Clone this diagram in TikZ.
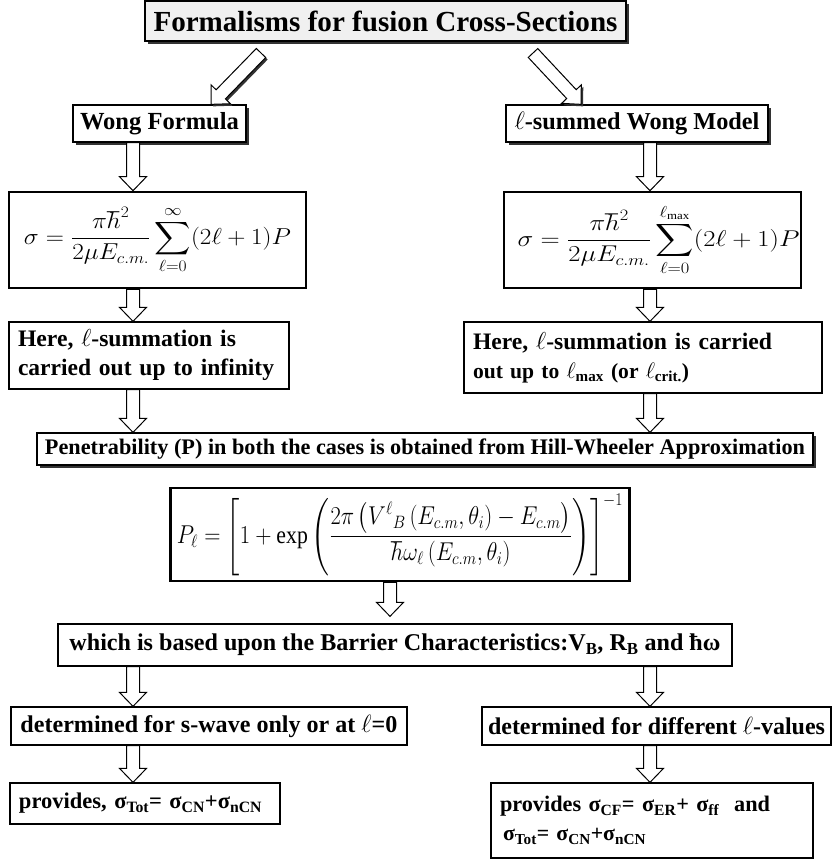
\documentclass[tikz,border=0pt]{standalone}
\usepackage{amsmath}
\usepackage{fontspec}
\setmainfont{Liberation Serif}
\usepackage{graphicx}
\usetikzlibrary{calc,shadows}

\newcommand{\fw}[2]{\resizebox{#1pt}{!}{#2}}
\newcommand{\fwh}[3]{\resizebox*{#1pt}{#2pt}{#3}}
\newcommand{\sig}[1]{σ\textsubscript{#1}}
% block arrow from #2 to #3
\newcommand{\barr}[3][]{%
  \path (#2) coordinate (bs) (#3) coordinate (be) ($(be)!14pt!(bs)$) coordinate (bh);
  \draw[barrow,#1] ($(bs)!6.5pt!90:(be)$) -- ($(bh)!6.5pt!90:(be)$) -- ($(bh)!13.5pt!90:(be)$) -- (be)
    -- ($(bh)!13.5pt!-90:(be)$) -- ($(bh)!6.5pt!-90:(be)$) -- ($(bs)!6.5pt!-90:(be)$) -- cycle;}

\tikzset{
  box/.style={draw=black, line width=1.3pt, fill=white, inner sep=0pt,
    font=\bfseries\fontsize{24}{29}\selectfont},
  lbox/.style={box, align=left, inner xsep=9pt},
  shbox/.style={box, drop shadow={shadow xshift=2.5pt, shadow yshift=-2.5pt, fill=black!80, opacity=1}},
  fbox/.style={box, line width=2.6pt},
  barrow/.style={draw=black, line width=1pt, fill=white, line join=miter},
  sharrow/.style={drop shadow={shadow xshift=2pt, shadow yshift=-2pt, fill=black!80, opacity=1}},
}

\begin{document}
\begin{tikzpicture}[x=1pt,y=-1pt]
\useasboundingbox (0,0) rectangle (832,862);

% boxes
\node[shbox, fill=gray!12, minimum width=481, minimum height=40] (title) at (385.5,21)
  {\fw{464}{Formalisms for fusion Cross-Sections}};
\node[shbox, minimum width=173, minimum height=37] (wong) at (159.5,123.5)
  {\fw{159}{Wong Formula}};
\node[shbox, minimum width=262, minimum height=37] (lsum) at (637,123.5)
  {\fw{245}{$\ell$-summed Wong Model}};

\node[fbox, minimum width=297, minimum height=96] (fL) at (157.5,240)
  {\fwh{267}{68}{$\displaystyle \sigma = \frac{\pi\hbar^{2}}{2\mu E_{c.m.}}\sum_{\ell=0}^{\infty}(2\ell+1)P$}};
\node[fbox, minimum width=297, minimum height=96, inner xsep=0pt] (fR) at (652.5,240)
  {\hspace{12pt}\fwh{282}{72}{$\displaystyle \sigma = \frac{\pi\hbar^{2}}{2\mu E_{c.m.}}\sum_{\ell=0}^{\ell_{\max}}(2\ell+1)P$}};

\node[lbox, text width=262, minimum height=67] (hereL) at (149,355.5)
  {\fw{218}{Here, $\ell$-summation is}\\ \fw{256}{carried out up to infinity}};
\node[lbox, text width=340, minimum height=71] (hereR) at (643,357.5)
  {\fw{299}{Here, $\ell$-summation is carried}\\ \fw{216}{out up to $\ell$\textsubscript{max} (or $\ell$\textsubscript{crit.})}};

\node[shbox, minimum width=776, minimum height=32] (pen) at (425,449)
  {\fw{760}{Penetrability (P) in both the cases is obtained from Hill-Wheeler Approximation}};

\node[fbox, minimum width=459, minimum height=93] (pform) at (400,534.5)
  {\fwh{446}{82}{$\displaystyle P_{\ell} = \left[1+\exp\left(\frac{2\pi\left(V^{\ell}{}_{B}\left(E_{c.m},\theta_{i}\right) - E_{c.m}\right)}{\hbar\omega_{\ell}\left(E_{c.m},\theta_{i}\right)}\right)\right]^{-1}$}};

\node[box, minimum width=674, minimum height=42] (which) at (395,645)
  {\fw{651}{which is based upon the Barrier Characteristics:V\textsubscript{B}, R\textsubscript{B} and ħω}};

\node[box, minimum width=396, minimum height=38] (detL) at (209,726)
  {\fw{377}{determined for s-wave only or at $\ell$=0}};
\node[box, minimum width=349, minimum height=38] (detR) at (656.5,726)
  {\fw{337}{determined for different $\ell$-values}};

\node[lbox, text width=252, minimum height=41] (provL) at (145,803.5)
  {\fw{243}{provides, \sig{Tot}= \sig{CN}+\sig{nCN}}};
\node[lbox, text width=304, minimum height=75] (provR) at (652,820.5)
  {\fw{270}{provides \sig{CF}= \sig{ER}+ \sig{ff}\ \ and}\\ \hspace{3pt}\fw{143}{\sig{Tot}= \sig{CN}+\sig{nCN}}};

% diagonal arrows
\coordinate (dl) at (261,53);
\coordinate (dr) at (533,53);
\barr[sharrow]{dl}{wong.north -| 211,0}
\barr[sharrow]{dr}{lsum.north -| 581,0}

% vertical arrows
\barr{wong.south -| 133,0}{fL.north -| 133,0}
\barr{lsum.south -| 650,0}{fR.north -| 650,0}
\barr{fL.south -| 133,0}{hereL.north -| 133,0}
\barr{fR.south -| 650,0}{hereR.north -| 650,0}
\barr{hereL.south -| 133,0}{pen.north -| 133,0}
\barr{hereR.south -| 650,0}{pen.north -| 650,0}
\coordinate (wt) at ($(which.north -| 390,0)+(0,-7)$);
\barr{pform.south -| 390,0}{wt}
\barr{which.south -| 133,0}{detL.north -| 133,0}
\barr{which.south -| 650,0}{detR.north -| 650,0}
\barr{detL.south -| 133,0}{provL.north -| 133,0}
\barr{detR.south -| 650,0}{provR.north -| 650,0}
\end{tikzpicture}
\end{document}
